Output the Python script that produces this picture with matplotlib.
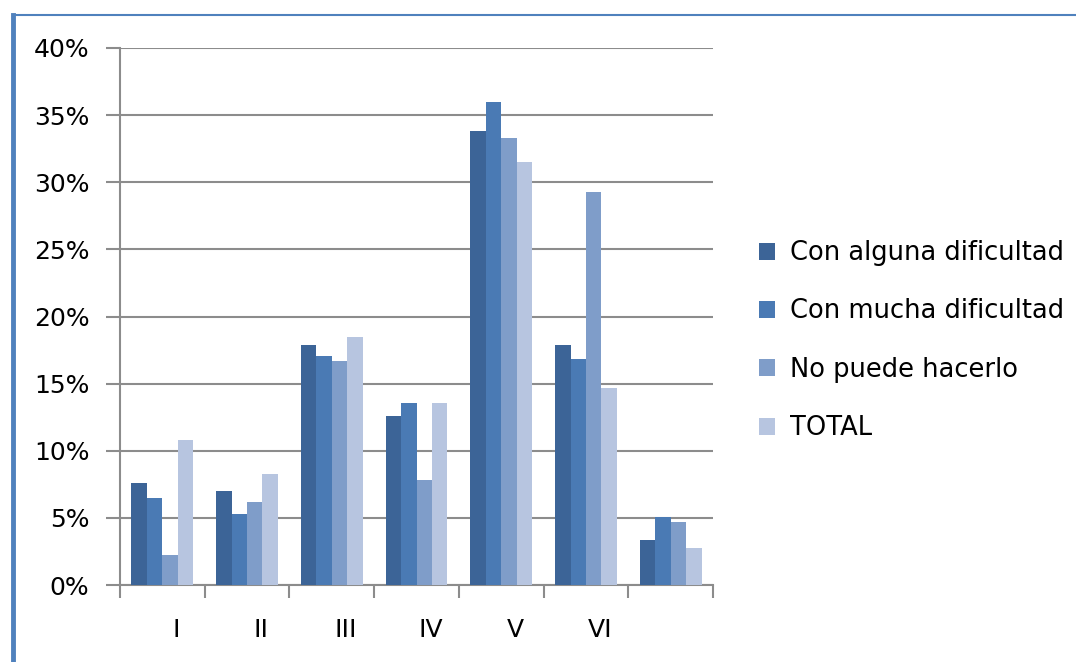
import matplotlib.pyplot as plt
from matplotlib.lines import Line2D
from matplotlib.ticker import PercentFormatter
import matplotlib.transforms as mtransforms
import numpy as np

categories = ['I', 'II', 'III', 'IV', 'V', 'VI', '']
series_names = ['Con alguna dificultad', 'Con mucha dificultad', 'No puede hacerlo', 'TOTAL']
con_alguna = [7.6, 7.0, 17.9, 12.6, 33.8, 17.9, 3.35]
con_mucha = [6.5, 5.3, 17.05, 13.55, 36.0, 16.8, 5.05]
no_puede = [2.2, 6.2, 16.7, 7.8, 33.3, 29.3, 4.7]
total = [10.8, 8.3, 18.5, 13.55, 31.5, 14.7, 2.75]
y_ticks = [0, 5, 10, 15, 20, 25, 30, 35, 40]

colors = ['#3C6497', '#4A7AB4', '#7F9DC9', '#B7C5E0']
values = [con_alguna, con_mucha, no_puede, total]

fig = plt.figure(figsize=(10.76, 6.62), dpi=100)
ax = fig.add_axes([0.1115, 0.1163, 0.5512, 0.8112])

x = np.arange(len(categories))
bar_w = 0.182
for i, (vals, name, col) in enumerate(zip(values, series_names, colors)):
    ax.bar(x + (i - 1.5) * bar_w, vals, width=bar_w, color=col, label=name,
           edgecolor='none', zorder=3)

ax.set_xlim(-0.5, len(categories) - 0.5)
ax.set_ylim(0, 40)
ax.set_yticks(y_ticks)
ax.yaxis.set_major_formatter(PercentFormatter(decimals=0))
ax.grid(axis='y', color='#8c8c8c', linewidth=1.5, zorder=0)

# category labels at centres, tick marks at boundaries
ax.set_xticks(x)
ax.set_xticklabels(categories)
ax.set_xticks(np.arange(-0.5, len(categories)), minor=True)
ax.tick_params(axis='x', which='major', length=0, pad=24, labelsize=18)
ax.tick_params(axis='x', which='minor', length=9, width=1.5, color='#8c8c8c', direction='out')
ax.tick_params(axis='y', length=10, width=1.5, color='#8c8c8c', labelsize=18, pad=12)

# the labels sit a little right of the group centres in the original
shift = mtransforms.ScaledTranslation(0.14, 0, fig.dpi_scale_trans)
for lab in ax.get_xticklabels():
    lab.set_transform(lab.get_transform() + shift)

for side in ['top', 'right']:
    ax.spines[side].set_visible(False)
for side in ['left', 'bottom']:
    ax.spines[side].set_color('#8c8c8c')
    ax.spines[side].set_linewidth(1.5)

ax.legend(loc='center left', bbox_to_anchor=(1.038, 0.455), frameon=False,
          fontsize=18.5, handlelength=0.65, handleheight=0.65, labelspacing=1.26,
          handletextpad=0.55)

# blue frame of the chart area
fig.add_artist(Line2D([0.012, 0.012], [0.0, 0.978], transform=fig.transFigure,
                      color='#4F81BD', linewidth=3.5))
fig.add_artist(Line2D([0.012, 1.0], [0.978, 0.978], transform=fig.transFigure,
                      color='#4F81BD', linewidth=1.5))

fig.savefig('out.png', dpi=100)
